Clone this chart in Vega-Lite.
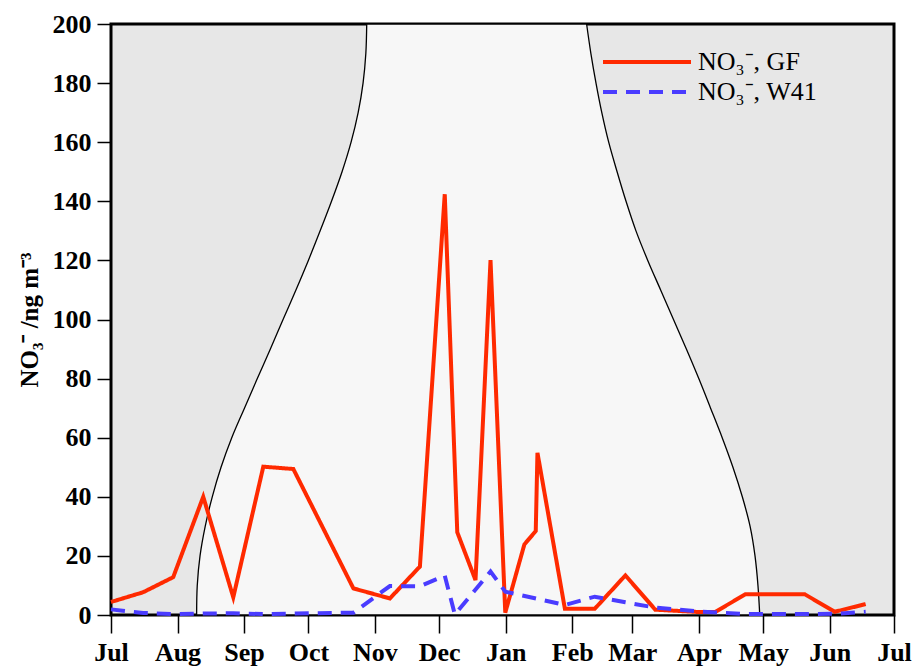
{
  "$schema": "https://vega.github.io/schema/vega-lite/v6.json",
  "width": 783,
  "height": 591,
  "autosize": {"type": "none"},
  "padding": {"left": 111, "top": 24, "right": 20, "bottom": 51},
  "background": "white",
  "config": {
    "view": {"stroke": "black", "strokeWidth": 3, "fill": "#e7e7e7"},
    "font": "Liberation Serif"
  },
  "datasets": {
    "curve": [
      {"y": 0, "left": "2010-08-09T22:00:00Z", "right": "2011-04-29T10:00:00Z"},
      {"y": 10, "left": "2010-08-10T05:00:00Z", "right": "2011-04-28T14:00:00Z"},
      {"y": 20, "left": "2010-08-11T12:00:00Z", "right": "2011-04-27T05:00:00Z"},
      {"y": 30, "left": "2010-08-13T22:00:00Z", "right": "2011-04-24T22:00:00Z"},
      {"y": 40, "left": "2010-08-17T05:00:00Z", "right": "2011-04-21T07:00:00Z"},
      {"y": 50, "left": "2010-08-21T07:00:00Z", "right": "2011-04-16T22:00:00Z"},
      {"y": 60, "left": "2010-08-26T07:00:00Z", "right": "2011-04-11T22:00:00Z"},
      {"y": 70, "left": "2010-09-01T05:00:00Z", "right": "2011-04-06T12:00:00Z"},
      {"y": 80, "left": "2010-09-07T05:00:00Z", "right": "2011-04-01T00:00:00Z"},
      {"y": 90, "left": "2010-09-13T07:00:00Z", "right": "2011-03-26T05:00:00Z"},
      {"y": 100, "left": "2010-09-19T05:00:00Z", "right": "2011-03-20T05:00:00Z"},
      {"y": 110, "left": "2010-09-25T05:00:00Z", "right": "2011-03-14T05:00:00Z"},
      {"y": 120, "left": "2010-10-01T00:00:00Z", "right": "2011-03-08T05:00:00Z"},
      {"y": 130, "left": "2010-10-06T12:00:00Z", "right": "2011-03-02T17:00:00Z"},
      {"y": 140, "left": "2010-10-11T19:00:00Z", "right": "2011-02-26T02:00:00Z"},
      {"y": 150, "left": "2010-10-16T17:00:00Z", "right": "2011-02-21T22:00:00Z"},
      {"y": 160, "left": "2010-10-20T22:00:00Z", "right": "2011-02-18T00:00:00Z"},
      {"y": 170, "left": "2010-10-24T05:00:00Z", "right": "2011-02-14T19:00:00Z"},
      {"y": 180, "left": "2010-10-26T12:00:00Z", "right": "2011-02-12T02:00:00Z"},
      {"y": 190, "left": "2010-10-27T19:00:00Z", "right": "2011-02-09T17:00:00Z"},
      {"y": 200, "left": "2010-10-28T05:00:00Z", "right": "2011-02-07T17:00:00Z"}
    ],
    "no3": [
      {"series": "NO₃⁻, GF", "date": "2010-07-01T00:00:00Z", "value": 4.4},
      {"series": "NO₃⁻, GF", "date": "2010-07-16T00:00:00Z", "value": 7.7},
      {"series": "NO₃⁻, GF", "date": "2010-07-30T00:00:00Z", "value": 12.8},
      {"series": "NO₃⁻, GF", "date": "2010-08-13T00:00:00Z", "value": 40.0},
      {"series": "NO₃⁻, GF", "date": "2010-08-27T00:00:00Z", "value": 6.0},
      {"series": "NO₃⁻, GF", "date": "2010-09-10T00:00:00Z", "value": 50.2},
      {"series": "NO₃⁻, GF", "date": "2010-09-24T00:00:00Z", "value": 49.4},
      {"series": "NO₃⁻, GF", "date": "2010-10-22T00:00:00Z", "value": 9.0},
      {"series": "NO₃⁻, GF", "date": "2010-11-08T00:00:00Z", "value": 5.6},
      {"series": "NO₃⁻, GF", "date": "2010-11-22T00:00:00Z", "value": 16.4},
      {"series": "NO₃⁻, GF", "date": "2010-12-03T14:00:00Z", "value": 142.4},
      {"series": "NO₃⁻, GF", "date": "2010-12-09T10:00:00Z", "value": 28.0},
      {"series": "NO₃⁻, GF", "date": "2010-12-17T22:00:00Z", "value": 11.8},
      {"series": "NO₃⁻, GF", "date": "2010-12-24T22:00:00Z", "value": 120.1},
      {"series": "NO₃⁻, GF", "date": "2010-12-31T19:00:00Z", "value": 0.8},
      {"series": "NO₃⁻, GF", "date": "2011-01-09T17:00:00Z", "value": 23.9},
      {"series": "NO₃⁻, GF", "date": "2011-01-15T00:00:00Z", "value": 28.4},
      {"series": "NO₃⁻, GF", "date": "2011-01-15T19:00:00Z", "value": 54.9},
      {"series": "NO₃⁻, GF", "date": "2011-01-28T14:00:00Z", "value": 2.1},
      {"series": "NO₃⁻, GF", "date": "2011-02-11T12:00:00Z", "value": 2.1},
      {"series": "NO₃⁻, GF", "date": "2011-02-25T19:00:00Z", "value": 13.4},
      {"series": "NO₃⁻, GF", "date": "2011-03-11T17:00:00Z", "value": 1.8},
      {"series": "NO₃⁻, GF", "date": "2011-04-01T05:00:00Z", "value": 1.0},
      {"series": "NO₃⁻, GF", "date": "2011-04-08T14:00:00Z", "value": 1.0},
      {"series": "NO₃⁻, GF", "date": "2011-04-22T17:00:00Z", "value": 7.0},
      {"series": "NO₃⁻, GF", "date": "2011-05-20T10:00:00Z", "value": 7.0},
      {"series": "NO₃⁻, GF", "date": "2011-06-03T10:00:00Z", "value": 1.1},
      {"series": "NO₃⁻, GF", "date": "2011-06-17T19:00:00Z", "value": 3.7},
      {"series": "NO₃⁻, W41", "date": "2010-07-01T00:00:00Z", "value": 1.9},
      {"series": "NO₃⁻, W41", "date": "2010-07-16T00:00:00Z", "value": 0.7},
      {"series": "NO₃⁻, W41", "date": "2010-07-30T00:00:00Z", "value": 0.3},
      {"series": "NO₃⁻, W41", "date": "2010-08-13T00:00:00Z", "value": 0.5},
      {"series": "NO₃⁻, W41", "date": "2010-08-27T00:00:00Z", "value": 0.6},
      {"series": "NO₃⁻, W41", "date": "2010-09-10T00:00:00Z", "value": 0.3},
      {"series": "NO₃⁻, W41", "date": "2010-09-24T00:00:00Z", "value": 0.5},
      {"series": "NO₃⁻, W41", "date": "2010-10-22T00:00:00Z", "value": 0.8},
      {"series": "NO₃⁻, W41", "date": "2010-11-08T00:00:00Z", "value": 9.8},
      {"series": "NO₃⁻, W41", "date": "2010-11-22T00:00:00Z", "value": 9.7},
      {"series": "NO₃⁻, W41", "date": "2010-12-03T14:00:00Z", "value": 13.3},
      {"series": "NO₃⁻, W41", "date": "2010-12-08T07:00:00Z", "value": 0.2},
      {"series": "NO₃⁻, W41", "date": "2010-12-24T22:00:00Z", "value": 14.7},
      {"series": "NO₃⁻, W41", "date": "2010-12-31T19:00:00Z", "value": 7.9},
      {"series": "NO₃⁻, W41", "date": "2011-01-28T14:00:00Z", "value": 3.4},
      {"series": "NO₃⁻, W41", "date": "2011-02-11T12:00:00Z", "value": 6.2},
      {"series": "NO₃⁻, W41", "date": "2011-02-25T19:00:00Z", "value": 4.3},
      {"series": "NO₃⁻, W41", "date": "2011-03-11T17:00:00Z", "value": 2.5},
      {"series": "NO₃⁻, W41", "date": "2011-04-01T05:00:00Z", "value": 1.2},
      {"series": "NO₃⁻, W41", "date": "2011-04-22T17:00:00Z", "value": 0.3},
      {"series": "NO₃⁻, W41", "date": "2011-05-20T10:00:00Z", "value": 0.3},
      {"series": "NO₃⁻, W41", "date": "2011-06-03T10:00:00Z", "value": 0.4},
      {"series": "NO₃⁻, W41", "date": "2011-06-17T19:00:00Z", "value": 1.1}
    ]
  },
  "layer": [
    {
      "data": {"name": "curve"},
      "mark": {"type": "area", "orient": "horizontal", "fill": "#f7f7f7", "stroke": "black", "strokeWidth": 1.3, "interpolate": "catmull-rom"},
      "encoding": {
        "y": {
          "field": "y", "type": "quantitative",
          "scale": {"domain": [0, 200], "nice": false, "zero": true},
          "axis": {
            "values": [0, 20, 40, 60, 80, 100, 120, 140, 160, 180, 200],
            "title": "NO₃⁻ /ng m⁻³",
            "titleFont": "Liberation Serif", "titleFontWeight": "bold", "titleFontSize": 25, "titleColor": "black", "titlePadding": 10,
            "labelFont": "Liberation Serif", "labelFontWeight": "bold", "labelFontSize": 26, "labelColor": "black", "labelPadding": 6,
            "tickSize": 14, "tickWidth": 1.5, "tickColor": "black", "domain": false, "grid": false
          }
        },
        "x": {
          "field": "left", "type": "temporal",
          "scale": {"type": "utc", "domain": [{"year": 2010, "month": 7, "date": 1, "utc": true}, {"year": 2011, "month": 7, "date": 1, "utc": true}], "nice": false},
          "axis": {
            "title": null,
            "values": [
              {"year": 2010, "month": 7, "date": 1, "utc": true},
              {"year": 2010, "month": 8, "date": 1, "utc": true},
              {"year": 2010, "month": 9, "date": 1, "utc": true},
              {"year": 2010, "month": 10, "date": 1, "utc": true},
              {"year": 2010, "month": 11, "date": 1, "utc": true},
              {"year": 2010, "month": 12, "date": 1, "utc": true},
              {"year": 2011, "month": 1, "date": 1, "utc": true},
              {"year": 2011, "month": 2, "date": 1, "utc": true},
              {"year": 2011, "month": 3, "date": 1, "utc": true},
              {"year": 2011, "month": 4, "date": 1, "utc": true},
              {"year": 2011, "month": 5, "date": 1, "utc": true},
              {"year": 2011, "month": 6, "date": 1, "utc": true},
              {"year": 2011, "month": 7, "date": 1, "utc": true}
            ],
            "labelExpr": "utcFormat(datum.value, '%b')",
            "labelFont": "Liberation Serif", "labelFontWeight": "bold", "labelFontSize": 26, "labelColor": "black", "labelPadding": 6,
            "labelFlush": false, "labelOverlap": false,
            "tickSize": 18, "tickWidth": 1.5, "tickColor": "black", "domain": false, "grid": false
          }
        },
        "x2": {"field": "right"}
      }
    },
    {
      "data": {"name": "no3"},
      "mark": {"type": "line", "strokeWidth": 4},
      "encoding": {
        "x": {"field": "date", "type": "temporal"},
        "y": {"field": "value", "type": "quantitative"},
        "color": {
          "field": "series", "type": "nominal",
          "scale": {"domain": ["NO₃⁻, GF", "NO₃⁻, W41"], "range": ["#ff2a00", "#4a3cff"]},
          "legend": {
            "title": null, "orient": "none", "legendX": 490, "legendY": 23,
            "labelFont": "Liberation Serif", "labelFontSize": 26, "labelColor": "black", "labelFontWeight": "normal",
            "symbolType": "stroke", "symbolSize": 7744, "symbolStrokeWidth": 4, "labelOffset": 5, "rowPadding": 0, "clipHeight": 30
          }
        },
        "strokeDash": {
          "field": "series", "type": "nominal",
          "scale": {"domain": ["NO₃⁻, GF", "NO₃⁻, W41"], "range": [[1, 0], [14, 9]]},
          "legend": {
            "title": null, "orient": "none", "legendX": 490, "legendY": 23,
            "labelFont": "Liberation Serif", "labelFontSize": 26, "labelColor": "black", "labelFontWeight": "normal",
            "symbolType": "stroke", "symbolSize": 7744, "symbolStrokeWidth": 4, "labelOffset": 5, "rowPadding": 0, "clipHeight": 30
          }
        }
      }
    }
  ]
}
